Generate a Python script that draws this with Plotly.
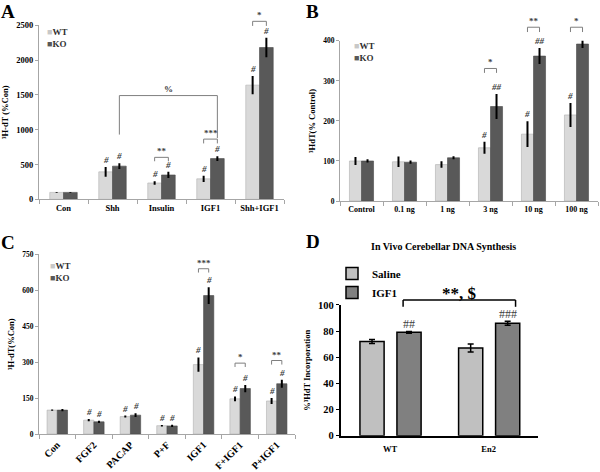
import plotly.graph_objects as go
import numpy as np

# ---------------- Panel A ----------------
a_cats = ["Con", "Shh", "Insulin", "IGF1", "Shh+IGF1"]
a_wt = [100, 395, 235, 295, 1640]
a_wt_err = [6, 70, 25, 45, 130]
a_ko = [100, 477, 350, 585, 2180]
a_ko_err = [6, 40, 45, 35, 140]
a_wt_sig = ["", "#", "#", "#", "#"]
a_ko_sig = ["", "#", "#", "#", "#"]
a_yticks = [0, 500, 1000, 1500, 2000, 2500]

# ---------------- Panel B ----------------
b_cats = ["Control", "0.1 ng", "1 ng", "3 ng", "10 ng", "100 ng"]
b_wt = [100, 98, 91, 133, 167, 215]
b_wt_err = [10, 13, 8, 15, 32, 30]
b_ko = [100, 97, 108, 236, 362, 392]
b_ko_err = [4, 4, 4, 31, 20, 10]
b_wt_sig = ["", "", "", "#", "#", "#"]
b_ko_sig = ["", "", "", "##", "##", "##"]
b_yticks = [0, 100, 200, 300, 400]

# ---------------- Panel C ----------------
c_cats = ["Con", "FGF2", "PACAP", "P+F", "IGF1", "F+IGF1", "P+IGF1"]
c_wt = [100, 58, 73, 35, 290, 147, 138]
c_wt_err = [3, 5, 4, 3, 30, 10, 13]
c_ko = [100, 51, 79, 34, 578, 190, 210]
c_ko_err = [5, 5, 8, 5, 35, 15, 17]
c_wt_sig = ["", "#", "#", "#", "#", "#", "#"]
c_ko_sig = ["", "#", "#", "#", "#", "#", "#"]
c_yticks = [0, 150, 300, 450, 600, 750]

# ---------------- Panel D ----------------
d_cats = ["WT", "En2"]
d_saline = [72, 67]
d_saline_err = [1.5, 3]
d_igf1 = [79, 86]
d_igf1_err = [0.7, 1.5]
d_igf1_sig = ["##", "###"]
d_yticks = [0, 20, 40, 60, 80, 100]

# significance brackets: (category, label, top, leg)
a_pairs = [(2, "**", 603, 547), (3, "***", 865, 803), (4, "*", 2556, 2490)]
b_pairs = [(3, "*", 331, 320), (4, "**", 434, 422), (5, "*", 434, 422)]
c_pairs = [(4, "***", 690, 674), (5, "*", 296, 280), (6, "**", 307, 290)]
# spanning brackets: (cat_from, cat_to, label, top, leg_left, leg_right)
a_span = (1, 3, "%", 1490, 930, 880)
d_span = (0, 1, "**, $", 103.7, 98.5, 98.5)

FONT = "Liberation Serif"
WT_COL = "#d9d9d9"
KO_COL = "#595959"
W = 600
H = 472

fig = go.Figure()

panels = [
    ("", a_cats, a_wt, a_wt_err, a_ko, a_ko_err, a_wt_sig, a_ko_sig),
    ("2", b_cats, b_wt, b_wt_err, b_ko, b_ko_err, b_wt_sig, b_ko_sig),
    ("3", c_cats, c_wt, c_wt_err, c_ko, c_ko_err, c_wt_sig, c_ko_sig),
]
BW = 0.28
annotations = []
shapes = []

for sfx, cats, wt, wte, ko, koe, wsig, ksig in panels:
    x = np.arange(len(cats))
    fig.add_trace(go.Bar(
        x=x, y=wt, name="WT", xaxis="x" + sfx, yaxis="y" + sfx,
        offset=-BW, width=BW, showlegend=False,
        marker=dict(color=WT_COL, line=dict(color="#b0b0b0", width=0.6)),
        error_y=dict(type="data", array=wte, thickness=2, width=0, color="black"),
    ))
    fig.add_trace(go.Bar(
        x=x, y=ko, name="KO", xaxis="x" + sfx, yaxis="y" + sfx,
        offset=0, width=BW, showlegend=False,
        marker=dict(color=KO_COL, line=dict(color="#4a4a4a", width=0.6)),
        error_y=dict(type="data", array=koe, thickness=2, width=0, color="black"),
    ))
    for i in range(len(cats)):
        for xo, v, e, s in ((-BW / 2, wt[i], wte[i], wsig[i]), (BW / 2, ko[i], koe[i], ksig[i])):
            if s:
                annotations.append(dict(
                    x=i + xo, y=v + e, xref="x" + sfx, yref="y" + sfx,
                    text="<i>" + s + "</i>", showarrow=False, yanchor="bottom", yshift=0,
                    font=dict(family=FONT, size=9, color="#404040", weight="bold")))

# Panel D bars
DW = 0.245
xd = np.arange(len(d_cats))
fig.add_trace(go.Bar(
    x=xd, y=d_saline, name="Saline", xaxis="x4", yaxis="y4",
    offset=-0.305, width=DW, legend="legend",
    marker=dict(color="#c0c0c0", line=dict(color="black", width=1.5)),
    error_y=dict(type="data", array=d_saline_err, thickness=1.5, width=3, color="black"),
))
fig.add_trace(go.Bar(
    x=xd, y=d_igf1, name="IGF1", xaxis="x4", yaxis="y4",
    offset=0.07, width=DW, legend="legend",
    marker=dict(color="#808080", line=dict(color="black", width=1.5)),
    error_y=dict(type="data", array=d_igf1_err, thickness=1.5, width=3, color="black"),
))
for i in range(len(d_cats)):
    if d_igf1_sig[i]:
        annotations.append(dict(
            x=i + 0.07 + DW / 2, y=d_igf1[i] + d_igf1_err[i], xref="x4", yref="y4",
            text=d_igf1_sig[i], showarrow=False, yanchor="bottom", yshift=-2,
            font=dict(family=FONT, size=12, color="#404040")))

ranges = {"": [0, 2500], "2": [0, 400], "3": [0, 750], "4": [0, 100]}


def ydom(v, sfx):
    r = ranges[sfx]
    return (v - r[0]) / (r[1] - r[0])


def add_line(sfx, x0, y0, x1, y1, color, width):
    shapes.append(dict(type="line", xref="x" + sfx, yref="y" + sfx + " domain",
                       x0=x0, x1=x1, y0=ydom(y0, sfx), y1=ydom(y1, sfx),
                       line=dict(color=color, width=width)))


for sfx, pairs in (("", a_pairs), ("2", b_pairs), ("3", c_pairs)):
    for i, lab, top, leg in pairs:
        xl, xr = i - BW / 2, i + BW / 2
        add_line(sfx, xl, leg, xl, top, "#7f7f7f", 1)
        add_line(sfx, xl, top, xr, top, "#7f7f7f", 1)
        add_line(sfx, xr, top, xr, leg, "#7f7f7f", 1)
        annotations.append(dict(x=i, y=ydom(top, sfx), xref="x" + sfx, yref="y" + sfx + " domain",
                                text=lab, showarrow=False, yanchor="bottom", yshift=-1,
                                font=dict(family=FONT, size=9, color="#404040", weight="bold")))

# spanning brackets
c0, c1, lab, top, l0, l1 = a_span
xl, xr = c0 + BW / 2, c1 + BW / 2
add_line("", xl, l0, xl, top, "#7f7f7f", 1)
add_line("", xl, top, xr, top, "#7f7f7f", 1)
add_line("", xr, top, xr, l1, "#7f7f7f", 1)
annotations.append(dict(x=(xl + xr) / 2, y=ydom(top, ""), xref="x", yref="y domain",
                        text=lab, showarrow=False, yanchor="bottom", yshift=0,
                        font=dict(family=FONT, size=9, color="#404040", weight="bold")))

c0, c1, lab, top, l0, l1 = d_span
xl, xr = c0 + 0.07 + DW / 2 - 0.06, c1 + 0.07 + DW / 2 + 0.08
add_line("4", xl, l0, xl, top, "black", 1.5)
add_line("4", xl, top, xr, top, "black", 1.5)
add_line("4", xr, top, xr, l1, "black", 1.5)
annotations.append(dict(x=(xl + xr) / 2, y=ydom(top, "4"), xref="x4", yref="y4 domain",
                        text=lab, showarrow=False, yanchor="bottom", yshift=-5,
                        font=dict(family=FONT, size=17, color="black", weight="bold")))

# legends for A-C (text with coloured squares)
for (lx, ly) in ((45, 34), (352, 48), (48, 273)):
    annotations.append(dict(x=lx / W, y=1 - ly / H, xref="paper", yref="paper",
                            text="<span style='color:#c8c8c8'>■</span>WT<br><span style='color:#595959'>■</span>KO",
                            showarrow=False, xanchor="left", yanchor="middle", align="left",
                            font=dict(family=FONT, size=9, color="#303030", weight="bold")))

# panel letters
for lab, lx, ly in (("A", -1, 7), ("B", 304, 7), ("C", -1, 243), ("D", 304, 242)):
    annotations.append(dict(x=lx / W, y=1 - ly / H, xref="paper", yref="paper", text=lab,
                            showarrow=False, xanchor="left", yanchor="middle",
                            font=dict(family=FONT, size=19, color="black", weight="bold")))

annotations.append(dict(x=443 / W, y=1 - 247 / H, xref="paper", yref="paper",
                        text="In Vivo Cerebellar DNA Synthesis", showarrow=False,
                        xanchor="center", yanchor="middle",
                        font=dict(family=FONT, size=10, color="black", weight="bold")))


def xax(dom, cats, size, angle=0):
    n = len(cats)
    return dict(domain=dom, range=[-0.5, n - 0.5], tickvals=list(range(n)), ticktext=cats,
                tickangle=angle, ticks="", showline=True, linecolor="#a6a6a6", linewidth=1,
                showgrid=False, zeroline=False, fixedrange=True,
                minor=dict(tickvals=list(np.arange(n + 1) - 0.5), ticks="outside", ticklen=4,
                           tickcolor="#a6a6a6", showgrid=False),
                tickfont=dict(family=FONT, size=size, color="black", weight="bold"))


def yax(dom, sfx, ticks, title, size, tsize, standoff):
    return dict(domain=dom, range=ranges[sfx], tickvals=ticks, showline=True, linecolor="#a6a6a6",
                linewidth=1, ticks="outside", ticklen=3, tickcolor="#a6a6a6", showgrid=False,
                zeroline=False, fixedrange=True,
                tickfont=dict(family=FONT, size=size, color="black", weight="bold"),
                title=dict(text=title, standoff=standoff,
                           font=dict(family=FONT, size=tsize, color="black", weight="bold")))


xa4 = xax([340.7 / W, 538 / W], d_cats, 8.5)
xa4.update(linecolor="black", linewidth=1.5, minor=dict(ticks=""), ticklabelstandoff=4)
ya4 = yax([1 - 441 / H, 1 - 307 / H], "4", d_yticks, "%³HdT Incorporation", 10.5, 8.5, 6)
ya4.update(linecolor="black", linewidth=1.5, tickcolor="black")

fig.update_layout(
    width=W, height=H, margin=dict(l=0, r=0, t=0, b=0),
    paper_bgcolor="white", plot_bgcolor="white", barmode="overlay",
    xaxis=xax([39 / W, 284 / W], a_cats, 8.5),
    yaxis=yax([1 - 199 / H, 1 - 20.7 / H], "", a_yticks, "³H-dT (%Con)", 8.5, 8.5, 6),
    xaxis2=xax([340 / W, 598 / W], b_cats, 8),
    yaxis2=yax([1 - 200.7 / H, 1 - 36.7 / H], "2", b_yticks, "³HdT(% Control)", 7.5, 8.5, 6),
    xaxis3=xax([39 / W, 295 / W], c_cats, 10, -45),
    yaxis3=yax([1 - 439.3 / H, 1 - 255.3 / H], "3", c_yticks, "³H-dT(%Con)", 7.5, 8.5, 6),
    xaxis4=xa4,
    yaxis4=ya4,
    legend=dict(x=332 / W, y=1 - 260 / H, xanchor="left", yanchor="top",
                bgcolor="rgba(0,0,0,0)", traceorder="normal",
                font=dict(family=FONT, size=11, color="black", weight="bold")),
    annotations=annotations, shapes=shapes, showlegend=True,
)
fig.update_layout(xaxis=dict(anchor="y"), yaxis=dict(anchor="x"),
                  xaxis2=dict(anchor="y2"), yaxis2=dict(anchor="x2"),
                  xaxis3=dict(anchor="y3"), yaxis3=dict(anchor="x3"),
                  xaxis4=dict(anchor="y4"), yaxis4=dict(anchor="x4"))

fig.write_html("out.html", config={"displayModeBar": False},
               post_script="document.body.style.margin='0px';")
